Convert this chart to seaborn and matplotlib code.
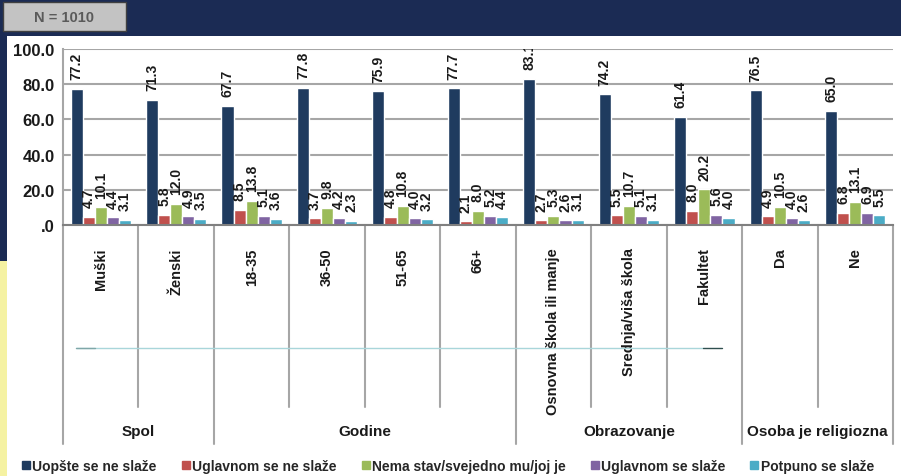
import matplotlib
import numpy as np
import pandas as pd
import seaborn as sns
from matplotlib import pyplot
from matplotlib.lines import Line2D
from matplotlib.patches import Rectangle

matplotlib.use("Agg")

categories = ["Muški", "Ženski", "18-35", "36-50", "51-65", "66+",
              "Osnovna škola ili manje", "Srednja/viša škola", "Fakultet",
              "Da", "Ne"]
series = ["Uopšte se ne slaže", "Uglavnom se ne slaže", "Nema stav/svejedno mu/joj je",
          "Uglavnom se slaže", "Potpuno se slaže"]
uopste = [77.2, 71.3, 67.7, 77.8, 75.9, 77.7, 83.1, 74.2, 61.4, 76.5, 65.0]
uglavnom_ne = [4.7, 5.8, 8.5, 3.7, 4.8, 2.1, 2.7, 5.5, 8.0, 4.9, 6.8]
nema_stav = [10.1, 12.0, 13.8, 9.8, 10.8, 8.0, 5.3, 10.7, 20.2, 10.5, 13.1]
uglavnom_da = [4.4, 4.9, 5.1, 4.2, 4.0, 5.2, 2.6, 5.1, 5.6, 4.0, 6.9]
potpuno = [3.1, 3.5, 3.6, 2.3, 3.2, 4.4, 3.1, 3.1, 4.0, 2.6, 5.5]
groups = ["Spol", "Godine", "Obrazovanje", "Osoba je religiozna"]
group_sizes = [2, 4, 3, 2]
colors = ["#1f3b5f", "#c0504d", "#9bbb59", "#8064a2", "#4bacc6"]

rows = []
for name, vals in zip(series, [uopste, uglavnom_ne, nema_stav, uglavnom_da, potpuno]):
    for cat, v in zip(categories, vals):
        rows.append({"kategorija": cat, "odgovor": name, "procenat": v})
df = pd.DataFrame(rows)

sns.set_style("white")
pyplot.rcParams["font.family"] = ["Liberation Sans", "DejaVu Sans"]

fig = pyplot.figure(figsize=(9.01, 4.77), dpi=100)
fig.patch.set_facecolor("white")

# background decoration: top band, left strip, N box
fig.add_artist(Rectangle((0, 1 - 37 / 477), 1, 37 / 477, transform=fig.transFigure,
                         facecolor="#1b2b54", edgecolor="none", zorder=0))
fig.add_artist(Rectangle((0, 1 - 262 / 477), 7 / 901, 262 / 477, transform=fig.transFigure,
                         facecolor="#1b2b54", edgecolor="none", zorder=0))
fig.add_artist(Rectangle((0, 0), 7 / 901, 1 - 262 / 477, transform=fig.transFigure,
                         facecolor="#f5f2a2", edgecolor="none", zorder=0))
fig.add_artist(Rectangle((3 / 901, 1 - 32 / 477), 123 / 901, 29 / 477, transform=fig.transFigure,
                         facecolor="#c3c3c3", edgecolor="#404040", linewidth=1, zorder=1))
fig.text(64.5 / 901, 1 - 17.5 / 477, "N = 1010", ha="center", va="center",
         fontsize=10.5, fontweight="bold", color="#5a5a5a")

ax = fig.add_axes([63 / 901, 1 - 226 / 477, 830 / 901, 176 / 477])
sns.barplot(data=df, x="kategorija", y="procenat", hue="odgovor", palette=colors,
            width=0.8, ax=ax, legend=False, saturation=1)

ax.set_ylim(0, 100)
ax.set_xlim(-0.5, len(categories) - 0.5)
ax.set_yticks(np.arange(0, 101, 20))
ax.set_yticklabels([".0" if t == 0 else f"{t:.1f}" for t in np.arange(0, 101, 20)],
                   fontsize=12, fontweight="bold", color="#1a1a1a")
ax.yaxis.grid(True, color="#a6a6a6", linewidth=1.5)
ax.set_axisbelow(True)
ax.tick_params(axis="y", length=4, color="#a6a6a6", pad=2)
ax.tick_params(axis="x", length=0, pad=16)
ax.set_xticks(range(len(categories)))
ax.set_xticklabels(categories, rotation=90, fontsize=10.5, fontweight="bold",
                   va="top", ha="center", color="#1a1a1a")
ax.set_xlabel("")
ax.set_ylabel("")
for s in ["top", "right"]:
    ax.spines[s].set_visible(False)
ax.spines["left"].set_color("#a6a6a6")
ax.spines["left"].set_linewidth(1.5)
ax.spines["bottom"].set_color("#808080")
ax.spines["bottom"].set_linewidth(1.5)

for cont in ax.containers:
    labels = ax.bar_label(cont, fmt="%.1f", rotation=90, padding=7, fontsize=10,
                          fontweight="bold", color="#1a1a1a")
    for t in labels:
        t.set_clip_box(ax.bbox)
        t.set_clip_on(True)

# separators under the axis
trans = matplotlib.transforms.blended_transform_factory(ax.transData, ax.transAxes)
bounds = np.cumsum([0] + group_sizes) - 0.5
for i in range(len(categories) + 1):
    xb = i - 0.5
    low = -1.244 if xb in bounds else -1.034
    ax.plot([xb, xb], [0, low], color="#a6a6a6", linewidth=1.5, transform=trans,
            clip_on=False)
for g, start, size in zip(groups, bounds[:-1], group_sizes):
    ax.text(start + size / 2, -1.17, g, transform=trans, ha="center", va="center",
            fontsize=11, fontweight="bold", color="#1a1a1a")

# stray connector line in the original
yl = 1 - 349 / 477
fig.add_artist(Line2D([76 / 901, 703 / 901], [yl, yl], transform=fig.transFigure,
                      color="#a9d6da", linewidth=1))
fig.add_artist(Line2D([76 / 901, 95 / 901], [yl, yl], transform=fig.transFigure,
                      color="#7fa7a8", linewidth=1))
fig.add_artist(Line2D([703 / 901, 722 / 901], [yl, yl], transform=fig.transFigure,
                      color="#2f4f4f", linewidth=1))

handles = [Line2D([], [], marker="s", linestyle="none", markersize=6,
                  markerfacecolor=c, markeredgecolor=c) for c in colors]
fig.legend(handles, series, loc="center", bbox_to_anchor=(0.497, 1 - 467 / 477),
           ncol=5, frameon=False, handlelength=0.6, handletextpad=0.15,
           columnspacing=1.8, prop={"size": 10, "weight": "bold"})

fig.savefig("out.png", dpi=100)
